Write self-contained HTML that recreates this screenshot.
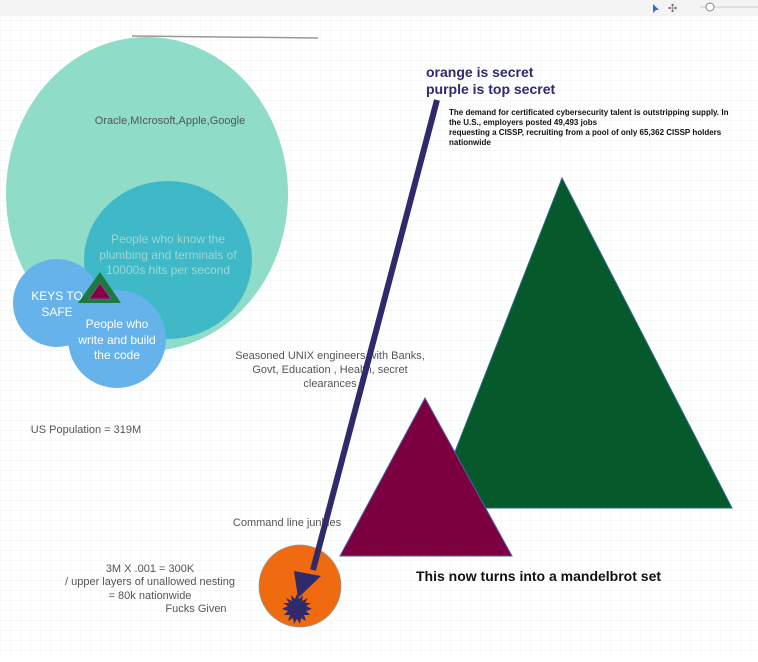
<!DOCTYPE html>
<html><head><meta charset="utf-8"><style>
body{margin:0;width:758px;height:657px;overflow:hidden;background:#fff;font-family:"Liberation Sans",sans-serif}
</style></head><body>
<svg width="758" height="657" xmlns="http://www.w3.org/2000/svg" font-family="Liberation Sans, sans-serif">
<defs><pattern id="g" width="10" height="10" patternUnits="userSpaceOnUse"><path d="M10 0H0V10" fill="none" stroke="#eef0f2" stroke-width="1"/></pattern></defs>
<rect width="758" height="657" fill="url(#g)"/>
<rect width="758" height="16" fill="#f3f3f3"/>
<path d="M653 4l6 6-3 0 -3 3z" fill="#2a6fd0"/>
<text x="668" y="12" font-size="11" fill="#777">✣</text>
<line x1="700" y1="7" x2="758" y2="7" stroke="#ccc"/>
<circle cx="710" cy="7" r="4" fill="#fff" stroke="#888"/>
<line x1="132" y1="36" x2="318" y2="38" stroke="#999" stroke-width="1.5"/>
<ellipse cx="147" cy="194" rx="141" ry="157" fill="#8fdcc8"/>
<text x="170" y="124" font-size="11" fill="#555" text-anchor="middle">Oracle,MIcrosoft,Apple,Google</text>
<ellipse cx="168" cy="260" rx="84" ry="79" fill="#3fb8c8"/>
<g font-size="12" fill="#9ad8d4" text-anchor="middle"><text x="168" y="243">People who know the</text><text x="168" y="259">plumbing and terminals of</text><text x="168" y="274">10000s hits per second</text></g>
<circle cx="57" cy="303" r="44" fill="#66b3ec"/>
<g font-size="12" fill="#fff" text-anchor="middle"><text x="57" y="300">KEYS TO</text><text x="57" y="316">SAFE</text></g>
<circle cx="117" cy="339" r="49" fill="#66b3ec"/>
<g font-size="12" fill="#fff" text-anchor="middle"><text x="117" y="328">People who</text><text x="117" y="344">write and build</text><text x="117" y="359">the code</text></g>
<polygon points="100,272 78,303 121,303" fill="#1e7a3c"/>
<polygon points="100,283 89,299 111,299" fill="#8a0045" stroke="#6a5aa0" stroke-width="1"/>
<polygon points="562,178 433,508 732,508" fill="#06592a" stroke="#2a6a8a" stroke-width="1"/>
<polygon points="425,398 340,556 512,556" fill="#7c003f" stroke="#4a5fb0" stroke-width="1"/>
<g font-size="11" fill="#555" text-anchor="middle"><text x="330" y="359">Seasoned UNIX engineers with Banks,</text><text x="330" y="373">Govt, Education , Health, secret</text><text x="330" y="387">clearances</text>
<text x="287" y="526">Command line junkies</text>
<text x="150" y="572">3M X .001 = 300K</text><text x="150" y="585">/ upper layers of unallowed nesting</text><text x="150" y="599">= 80k nationwide</text><text x="196" y="612">Fucks Given</text>
<text x="86" y="433">US Population = 319M</text></g>
<circle cx="300" cy="586" r="41" fill="#f06a0f" stroke="#999" stroke-width="0.8"/>
<polygon fill="#2e2a6b" points="297,594 299,599 303,595 302,601 308,598 305,603 311,603 306,606 312,609 306,611 310,615 304,615 306,621 301,618 300,624 297,619 294,624 293,618 288,621 290,615 284,615 288,611 282,609 288,606 283,603 289,603 286,598 292,601 291,595 295,599"/>
<line x1="437" y1="100" x2="313" y2="570" stroke="#2e2a6b" stroke-width="6"/>
<polygon points="298,598 294,571 321,576" fill="#2e2a6b"/>
<g font-size="14" font-weight="bold" fill="#2e2a6b"><text x="426" y="77">orange is secret</text><text x="426" y="94">purple is top secret</text></g>
<g font-size="8" font-weight="bold" fill="#111"><text x="449" y="115">The demand for certificated cybersecurity talent is outstripping supply. In</text><text x="449" y="125">the U.S., employers posted 49,493 jobs</text><text x="449" y="135">requesting a CISSP, recruiting from a pool of only 65,362 CISSP holders</text><text x="449" y="145">nationwide</text></g>
<text x="416" y="581" font-size="14" font-weight="bold" fill="#111">This now turns into a mandelbrot set</text>
</svg>
</body></html>
